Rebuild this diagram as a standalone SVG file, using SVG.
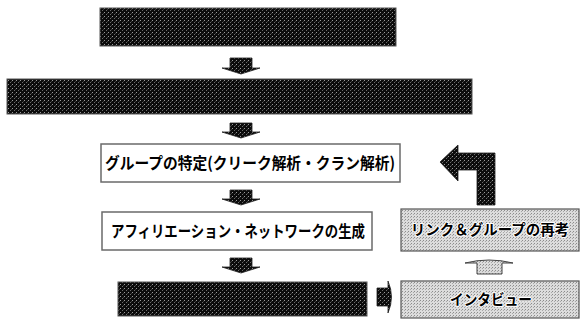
<svg xmlns="http://www.w3.org/2000/svg" width="581" height="321" viewBox="0 0 581 321">
<defs>
<pattern id="dark" width="4" height="4" patternUnits="userSpaceOnUse">
<rect width="4" height="4" fill="#0b0b0b"/>
<rect x="0" y="0" width="1" height="1" fill="#9a9a9a"/>
<rect x="2" y="2" width="1" height="1" fill="#6a6a6a"/>
<rect x="3" y="1" width="1" height="1" fill="#3a3a3a"/>
</pattern>
<pattern id="light" width="3" height="3" patternUnits="userSpaceOnUse">
<rect width="3" height="3" fill="#dcdcdc"/>
<rect x="0" y="0" width="1" height="1" fill="#8c8c8c"/>
<rect x="2" y="1" width="1" height="1" fill="#a8a8a8"/>
</pattern>
<style>
.dark{fill:url(#dark);stroke:#555;stroke-width:1}
.white{fill:#fff;stroke:#6a6a6a;stroke-width:1.5}
.gray{fill:url(#light);stroke:#555;stroke-width:1.2}
.t{font-family:"Noto Sans CJK JP","Noto Sans CJK SC",sans-serif;font-weight:bold;font-size:16px;fill:#000;text-anchor:middle}
.halo{stroke:#fff;stroke-width:2;paint-order:stroke;stroke-linejoin:round;font-size:15px}
.arr{fill:url(#dark);stroke:#222;stroke-width:0.8}
</style>
</defs>
<g id="node-collect"><rect class="dark" x="100" y="8" width="296" height="38"/></g>
<g id="node-relations"><rect class="dark" x="7" y="79" width="465" height="35"/></g>
<g id="node-group"><rect class="white" x="101" y="144" width="299" height="38"/><text class="t" x="250" y="169" textLength="290" lengthAdjust="spacingAndGlyphs">グループの特定(クリーク解析・クラン解析)</text></g>
<g id="node-affiliation"><rect class="white" x="102" y="212" width="270" height="38"/><text class="t" x="238" y="237" textLength="254" lengthAdjust="spacingAndGlyphs">アフィリエーション・ネットワークの生成</text></g>
<g id="node-result"><rect class="dark" x="118" y="282" width="249" height="34"/></g>
<g id="node-reconsider"><rect class="gray" x="401" y="209" width="178" height="42"/><text class="t halo" x="490" y="235" style="font-size:14.5px">リンク＆グループの再考</text></g>
<g id="node-interview"><rect class="gray" x="401" y="281" width="178" height="37"/><text class="t halo" x="491" y="305" textLength="82" lengthAdjust="spacingAndGlyphs">インタビュー</text></g>
<g id="connectors">
<path class="arr" d="M230 58 H252 V68 H260 L241 74 L222 68 H230 Z"/>
<path class="arr" d="M230 123 H252 V132 H260 L241 138 L222 132 H230 Z"/>
<path class="arr" d="M230 190 H252 V199 H260 L241 205 L222 199 H230 Z"/>
<path class="arr" d="M230 258 H252 V267 H260 L241 273 L222 267 H230 Z"/>
<path class="arr" d="M377 288 H388 V281 Q395 297 388 313 V306 H377 Z"/>
<path class="arr" d="M477 205 V170 H458 V181 L440 162 L458 145 V153 H495 V205 Z"/>
<path d="M477 274 V263 H465 Q489 257 513 263 H502 V274 Z" fill="url(#light)" stroke="#444" stroke-width="1"/>
</g>
</svg>
